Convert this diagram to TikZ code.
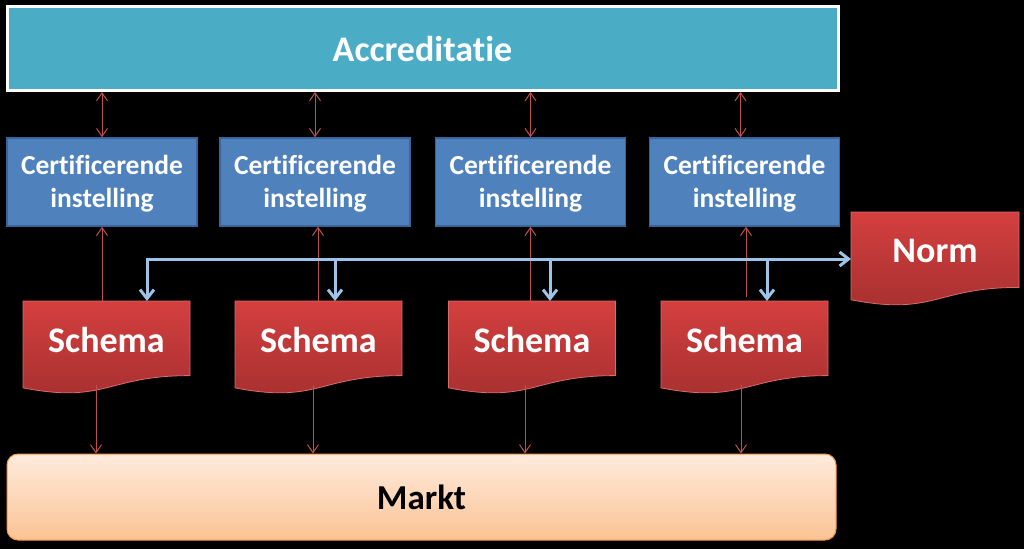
\documentclass[tikz,border=0pt]{standalone}
\usepackage{fontspec}
\setmainfont{Carlito}[Ligatures=NoCommon]
\usetikzlibrary{arrows.meta,calc}
\definecolor{acccol}{HTML}{4BACC6}
\definecolor{certcol}{HTML}{4F81BD}
\definecolor{certline}{HTML}{3A659A}
\definecolor{redline}{HTML}{C0504D}
\definecolor{blueline}{HTML}{9DC3E6}
\definecolor{schtop}{HTML}{D43F3F}
\definecolor{schbot}{HTML}{A52F2F}
\definecolor{schedge}{HTML}{D96B6B}
\definecolor{mktop}{HTML}{FEEBDD}
\definecolor{mkbot}{HTML}{FBC394}
\definecolor{mkline}{HTML}{F79646}
\newcommand\drawdoc[1]{%
  \path[docfill] (#1.north west) -- (#1.north east)
    -- ($(#1.north east)!0.802!(#1.south east)$)
    .. controls ($(#1.north)!0.802!(#1.south)$) and ($(#1.north)!1.1075!(#1.south)$)
    .. ($(#1.north west)!0.934!(#1.south west)$) -- cycle;}
\begin{document}
\begin{tikzpicture}[x=1pt,y=-1pt,
  accbox/.style={draw=white,line width=3pt,fill=acccol,minimum width=831pt,minimum height=84pt,
    inner sep=0pt,text=white,font=\fontsize{36}{40}\selectfont\bfseries},
  certbox/.style={draw=certline,line width=1.5pt,fill=certcol,minimum width=190pt,minimum height=88pt,
    inner sep=0pt,align=center,text=white,font=\fontsize{27.5}{33}\selectfont\bfseries},
  certtext/.style={inner sep=0pt,align=center,text=white,font=\fontsize{27.5}{33}\selectfont\bfseries},
  docnode/.style={minimum width=167pt,minimum height=93pt,inner sep=0pt,outer sep=0pt},
  docfill/.style={top color=schtop,bottom color=schbot,draw=schedge,line width=0.8pt},
  doctext/.style={text=white,inner sep=0pt,font=\fontsize{36}{40}\selectfont\bfseries},
  mktbox/.style={draw=mkline,line width=1pt,top color=mktop,bottom color=mkbot,rounded corners=11pt,
    minimum width=829pt,minimum height=86pt,inner sep=0pt,text=black,font=\fontsize{35}{40}\selectfont\bfseries},
  redarr/.style={draw=redline,line width=1pt},
  redtip/.tip={Straight Barb[length=8pt,width=11pt]},
  bluearr/.style={draw=blueline,line width=3pt},
  bluetip/.tip={Straight Barb[length=9pt,width=14pt]}
]
\fill[black] (0,0) rectangle (1024,549);
\useasboundingbox (0,0) rectangle (1024,549);

% boxes
\node[accbox] (acc) at (422.5,48.5) {Accreditatie};
\node[certbox] (c1) at (102,182) {};
\node[certbox] (c2) at (315,182) {};
\node[certbox] (c3) at (530.5,182) {};
\node[certbox] (c4) at (744.5,182) {};
\node[certtext] (c1t) at ($(c1.center)+(0,2)$) {Certificerende\\instelling};
\node[certtext] (c2t) at ($(c2.center)+(0,2)$) {Certificerende\\instelling};
\node[certtext] (c3t) at ($(c3.center)+(0,2)$) {Certificerende\\instelling};
\node[certtext] (c4t) at ($(c4.center)+(0,2)$) {Certificerende\\instelling};
\node[mktbox] (mk) at (421.5,497) {Markt};

% document shapes
\node[docnode] (s1) at (106.5,347.5) {};
\node[docnode] (s2) at (318.5,347.5) {};
\node[docnode] (s3) at (532,347.5) {};
\node[docnode] (s4) at (744.5,347.5) {};
\node[docnode,minimum width=168pt,minimum height=94pt] (nm) at (935,259) {};
\drawdoc{s1}\drawdoc{s2}\drawdoc{s3}\drawdoc{s4}\drawdoc{nm}
\node[doctext] (s1t) at ($(s1.center)+(0,-8)$) {Schema};
\node[doctext] (s2t) at ($(s2.center)+(0,-8)$) {Schema};
\node[doctext] (s3t) at ($(s3.center)+(0,-8)$) {Schema};
\node[doctext] (s4t) at ($(s4.center)+(0,-8)$) {Schema};
\node[doctext] (nmt) at ($(nm.center)+(0,-8)$) {Norm};

% accreditatie <-> certificerende instelling
\draw[redarr,{redtip}-{redtip}] (c1.north |- acc.south) -- (c1.north);
\draw[redarr,{redtip}-{redtip}] (c2.north |- acc.south) -- (c2.north);
\draw[redarr,{redtip}-{redtip}] (c3.north |- acc.south) -- (c3.north);
\draw[redarr,{redtip}-{redtip}] ($(c4.north |- acc.south)+(-4,0)$) -- ($(c4.north)+(-4,0)$);

% schema -> certificerende instelling
\draw[redarr,-{redtip}] (c1.south |- s1.north) -- (c1.south);
\draw[redarr,-{redtip}] ($(c2.south |- s2.north)+(3,0)$) -- ($(c2.south)+(3,0)$);
\draw[redarr,-{redtip}] (c3.south |- s3.north) -- (c3.south);
\draw[redarr,-{redtip}] ($(c4.south |- s4.north)+(1.5,-4)$) -- ($(c4.south)+(1.5,0)$);

% schema -> markt
\coordinate (d1) at ($(s1.south west)+(73,-9)$);
\coordinate (d2) at ($(s2.south west)+(78,-9)$);
\coordinate (d3) at ($(s3.south west)+(76.5,-9)$);
\coordinate (d4) at ($(s4.south west)+(80,-9)$);
\draw[redarr,-{redtip}] (d1) -- (d1 |- mk.north);
\draw[redarr,-{redtip}] (d2) -- (d2 |- mk.north);
\draw[redarr,-{redtip}] (d3) -- (d3 |- mk.north);
\draw[redarr,-{redtip}] (d4) -- (d4 |- mk.north);

% norm -> schemas
\coordinate (h1) at (147,259);
\coordinate (h2) at (335,259);
\coordinate (h3) at (550,259);
\coordinate (h4) at (767,259);
\draw[bluearr,{bluetip}-{bluetip}] (nm.west) -- (h1) -- (h1 |- s1.north);
\draw[bluearr,-{bluetip}] (h2) -- (h2 |- s2.north);
\draw[bluearr,-{bluetip}] (h3) -- (h3 |- s3.north);
\draw[bluearr,-{bluetip}] (h4) -- (h4 |- s4.north);
\end{tikzpicture}
\end{document}
